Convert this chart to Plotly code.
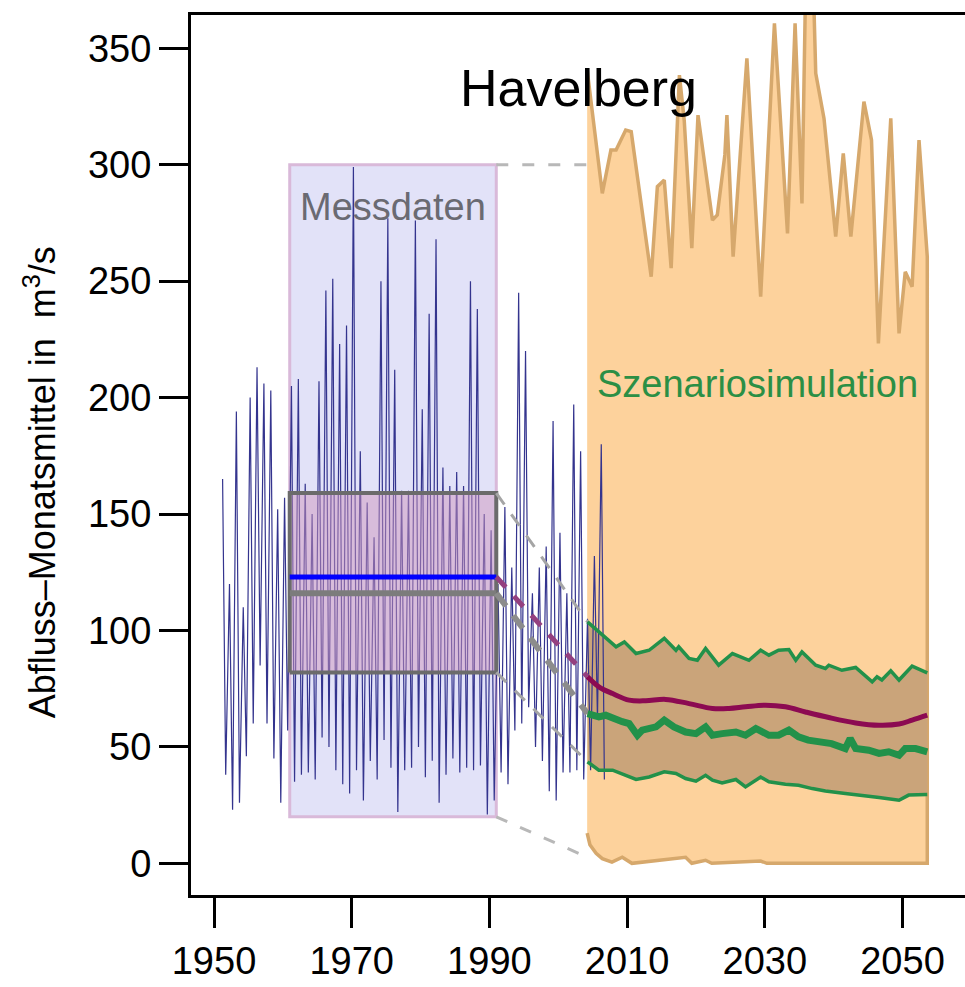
import plotly.graph_objects as go

# ---------------- data ----------------
# observed monthly discharge, condensed to annual high / low (m3/s)
obs_years = list(range(1951, 2007))
obs_peak = [165, 120, 194, 110, 200, 213, 206, 203, 152, 157,
            205, 208, 163, 150, 207, 246, 251, 223, 231, 299,
            177, 155, 140, 250, 277, 212, 160, 160, 276, 195,
            236, 268, 170, 162, 168, 162, 250, 238, 150, 143,
            120, 153, 127, 245, 220, 116, 127, 136, 190, 142,
            116, 197, 177, 105, 132, 180]
obs_low = [38, 23, 26, 46, 60, 85, 60, 45, 26, 57,
           35, 38, 39, 36, 54, 50, 40, 34, 30, 40,
           27, 44, 36, 53, 41, 22, 40, 41, 50, 37,
           44, 26, 38, 45, 39, 41, 40, 42, 21, 27,
           39, 34, 57, 60, 67, 50, 44, 31, 27, 39,
           39, 40, 36, 40, 62, 36]

# reference period statistics (Messdaten 1961-1990)
ref_period = [1961, 1991]
ref_stats = {"max": 300, "q75": 159, "mean": 123, "median": 116, "q25": 82, "min": 20}

# scenario simulation envelope
scen_max_years = [2004.2, 2006.4, 2007.65, 2008.4, 2009.8, 2010.6, 2013.5, 2014.4, 2015.4, 2016.4,
                  2017.6, 2018.3, 2019.4, 2020.3, 2022.4, 2023.1, 2024.2, 2024.5, 2025.4, 2027.4,
                  2029.4, 2031.4, 2033.3, 2034.4, 2035.4, 2035.9, 2037.1, 2037.4, 2038.6, 2040.3,
                  2041.4, 2042.5, 2044.4, 2045.5, 2046.5, 2048.3, 2049.5, 2050.4, 2051.4, 2052.4,
                  2053.6]
scen_max = [340.7, 287.7, 306.3, 306.3, 314.9, 314.2, 251.9, 290.6, 293.4, 255.6,
            338.5, 319.0, 264.2, 321.3, 276.2, 278.4, 304.2, 321.3, 260.5, 345.7,
            243.3, 360.7, 270.5, 360.7, 283.4, 372.0, 372.0, 339.3, 319.9, 269.1,
            304.9, 269.1, 327.1, 310.6, 223.3, 319.9, 227.6, 254.0, 247.6, 310.6,
            260.5]
scen_min_years = [2004.2, 2004.6, 2005.5, 2006.4, 2007.8, 2009.3, 2010.7, 2018.5, 2019.4,
                  2021.4, 2022.3, 2029.4, 2030.3, 2053.6]
scen_min = [13, 8, 4.3, 2, 0.5, 2.6, 0, 2.6, 0, 1.3, 0, 1, 0, 0]

scen_q75_years = [2004.25, 2005.9, 2008.4, 2009.6, 2011.3, 2013.2, 2015.4, 2017.1, 2017.5, 2019.0,
                  2020.2, 2021.4, 2023.3, 2025.3, 2027.7, 2029.4, 2030.6, 2032.0, 2033.5, 2034.5,
                  2035.4, 2037.4, 2038.8, 2039.3, 2041.2, 2043.2, 2045.6, 2046.3, 2047.0, 2048.3,
                  2049.5, 2051.4, 2053.6]
scen_q75 = [103.7, 99.4, 93.0, 95.1, 90.1, 91.5, 96.6, 91.5, 93.0, 88.0,
            87.2, 92.3, 85.1, 90.1, 87.2, 91.5, 89.4, 91.5, 91.8, 87.2,
            90.8, 85.1, 83.7, 85.1, 82.9, 84.1, 77.9, 80.1, 78.7, 82.7,
            78.7, 84.7, 81.8]

scen_median_years = [2004.25, 2005.9, 2006.9, 2008.4, 2009.3, 2010.3, 2011.5, 2012.2, 2014.2, 2015.4,
                     2016.8, 2018.5, 2020.0, 2021.4, 2022.4, 2023.8, 2025.8, 2027.2, 2028.7, 2030.6,
                     2032.0, 2033.5, 2034.9, 2036.3, 2037.8, 2039.7, 2041.7, 2042.4, 2043.2, 2045.1,
                     2046.6, 2048.0, 2049.5, 2050.4, 2051.9, 2053.6]
scen_median = [64.3, 62.9, 63.6, 61.5, 60.8, 60.0, 55.0, 57.2, 58.6, 61.5,
               58.6, 56.4, 55.7, 58.6, 55.0, 55.7, 56.4, 55.0, 57.9, 55.0,
               55.0, 57.2, 54.3, 52.9, 52.1, 51.4, 49.3, 53.6, 49.3, 48.6,
               47.2, 47.9, 46.4, 49.3, 49.3, 47.9]

scen_q25_years = [2004.25, 2005.9, 2007.9, 2009.8, 2011.3, 2013.2, 2015.4, 2017.1, 2018.5, 2020.0,
                  2021.4, 2022.4, 2023.8, 2025.8, 2027.2, 2029.4, 2030.6, 2033.0, 2034.9, 2036.9,
                  2038.8, 2041.7, 2044.1, 2046.6, 2049.5, 2050.9, 2053.6]
scen_q25 = [43.6, 40.0, 40.0, 37.8, 36.0, 37.1, 39.3, 38.6, 36.4, 35.3,
            37.8, 35.7, 34.5, 36.0, 32.8, 37.1, 35.0, 34.0, 33.5, 32.1,
            31.1, 30.0, 29.3, 28.3, 27.1, 29.3, 29.6]

scen_mean_years = [2004.25, 2005.9, 2007.9, 2010.3, 2012.7, 2015.6, 2019.0, 2022.4, 2024.8, 2027.2,
                   2030.1, 2033.0, 2035.9, 2039.3, 2043.2, 2046.6, 2049.5, 2051.4, 2053.6]
scen_mean = [80.1, 75.8, 72.9, 70.1, 69.8, 70.4, 68.6, 66.5, 66.5, 67.2,
             67.9, 67.2, 65.0, 62.6, 60.3, 59.3, 59.8, 61.5, 63.6]

# envelope values where the dashed connectors end
conn_end_max = 300
conn_end_min = 2.6

x_ticks = [1950, 1970, 1990, 2010, 2030, 2050]
y_ticks = [0, 50, 100, 150, 200, 250, 300, 350]

# ---------------- figure ----------------
FONT = "Liberation Sans, Arial, Helvetica, sans-serif"
fig = go.Figure()

# orange scenario envelope
fig.add_trace(go.Scatter(
    x=scen_max_years + scen_min_years[::-1],
    y=scen_max + scen_min[::-1],
    fill="toself", fillcolor="#fdd29c",
    line=dict(color="#d6a86c", width=3.5),
    mode="lines", hoverinfo="skip", showlegend=False))

# brown inner band (q25 - q75)
fig.add_trace(go.Scatter(
    x=scen_q75_years + scen_q25_years[::-1],
    y=scen_q75 + scen_q25[::-1],
    fill="toself", fillcolor="#caa47a",
    line=dict(width=0), mode="lines", hoverinfo="skip", showlegend=False))

# observed series
obs_x, obs_y = [], []
for yr, hi, lo in zip(obs_years, obs_peak, obs_low):
    obs_x += [yr + 0.25, yr + 0.7]
    obs_y += [hi, lo]
fig.add_trace(go.Scatter(x=obs_x, y=obs_y, mode="lines",
                         line=dict(color="#34348e", width=1.2),
                         hoverinfo="skip", showlegend=False))

# reference box (q25..q75)
x0, x1 = ref_period
fig.add_trace(go.Scatter(
    x=[x0, x1, x1, x0, x0],
    y=[ref_stats["q25"], ref_stats["q25"], ref_stats["q75"], ref_stats["q75"], ref_stats["q25"]],
    fill="toself", fillcolor="rgba(205,150,190,0.5)",
    line=dict(color="#6b6b6b", width=4), mode="lines",
    hoverinfo="skip", showlegend=False))

# mean & median of reference period
fig.add_trace(go.Scatter(x=ref_period, y=[ref_stats["mean"]] * 2, mode="lines",
                         line=dict(color="#0000ff", width=5), hoverinfo="skip", showlegend=False))
fig.add_trace(go.Scatter(x=ref_period, y=[ref_stats["median"]] * 2, mode="lines",
                         line=dict(color="#7c7c7c", width=6), hoverinfo="skip", showlegend=False))

# dashed connectors
start = scen_q75_years[0]
connectors = [
    (ref_stats["max"], conn_end_max, "#b8b8b8", 3, "12px,14px"),
    (ref_stats["min"], conn_end_min, "#b8b8b8", 3, "12px,14px"),
    (ref_stats["q75"], scen_q75[0], "#a5a5a5", 3, "14px,12px"),
    (ref_stats["q25"], scen_q25[0], "#a5a5a5", 3, "14px,12px"),
    (ref_stats["median"], scen_median[0], "#8c8c8c", 6, "16px,12px"),
    (ref_stats["mean"], scen_mean[0], "#94407f", 5, "14px,12px"),
]
for v0, v1, col, w, d in connectors:
    fig.add_trace(go.Scatter(x=[ref_period[1], start], y=[v0, v1], mode="lines",
                             line=dict(color=col, width=w, dash=d),
                             hoverinfo="skip", showlegend=False))

# scenario quantile lines
fig.add_trace(go.Scatter(x=scen_q75_years, y=scen_q75, mode="lines",
                         line=dict(color="#22914a", width=3.5), hoverinfo="skip", showlegend=False))
fig.add_trace(go.Scatter(x=scen_q25_years, y=scen_q25, mode="lines",
                         line=dict(color="#22914a", width=3.5), hoverinfo="skip", showlegend=False))
fig.add_trace(go.Scatter(x=scen_median_years, y=scen_median, mode="lines",
                         line=dict(color="#22914a", width=7), hoverinfo="skip", showlegend=False))
fig.add_trace(go.Scatter(x=scen_mean_years, y=scen_mean, mode="lines", line_shape="spline",
                         line=dict(color="#8c0a52", width=5), hoverinfo="skip", showlegend=False))

# lavender Messdaten rectangle (below traces)
fig.add_shape(type="rect", xref="x", yref="y", layer="below",
              x0=ref_period[0], x1=ref_period[1], y0=ref_stats["min"], y1=ref_stats["max"],
              fillcolor="#e2e2f8", line=dict(color="#d9b9d9", width=3))

# texts
fig.add_annotation(text="Havelberg", x=2002.9, y=333, xref="x", yref="y",
                   showarrow=False, font=dict(family=FONT, size=52, color="black"))
fig.add_annotation(text="Messdaten", x=sum(ref_period) / 2, y=282, xref="x", yref="y",
                   showarrow=False, font=dict(family=FONT, size=38, color="#6a6a72"))
fig.add_annotation(text="Szenariosimulation", x=2028.9, y=206, xref="x", yref="y",
                   showarrow=False, font=dict(family=FONT, size=38, color="#2b8f45"))
fig.add_annotation(text="Abfluss\u2013Monatsmittel in  m<sup>3</sup>/s", textangle=-90,
                   x=-0.195, y=0.469, xref="paper", yref="paper",
                   xanchor="center", yanchor="middle", showarrow=False,
                   font=dict(family=FONT, size=36, color="black"))

fig.update_layout(
    width=965, height=987,
    margin=dict(l=191, r=0, t=15, b=92),
    paper_bgcolor="white", plot_bgcolor="white",
    font=dict(family=FONT, size=38, color="black"),
    showlegend=False,
    xaxis=dict(range=[1946.66, 2059.08], tickvals=x_ticks, ticktext=[str(t) for t in x_ticks],
               showgrid=False, zeroline=False, showline=True, mirror=True,
               linecolor="black", linewidth=3, ticks="outside", ticklen=30, tickwidth=3,
               tickcolor="black", tickfont=dict(family=FONT, size=38, color="black"),
               automargin=False),
    yaxis=dict(range=[-13.6, 364.3], tickvals=y_ticks, ticktext=[str(t) for t in y_ticks],
               showgrid=False, zeroline=False, showline=True, mirror=False,
               linecolor="black", linewidth=3, ticks="outside", ticklen=29, tickwidth=3,
               tickcolor="black", tickfont=dict(family=FONT, size=38, color="black"),
               automargin=False),
)

fig.write_html("out.html")
